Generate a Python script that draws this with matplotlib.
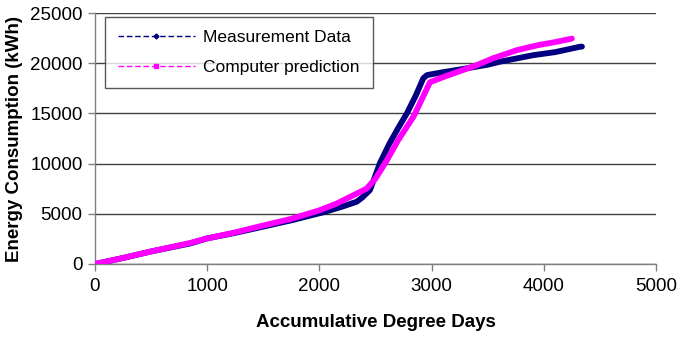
import matplotlib
matplotlib.use("Agg")
import matplotlib.pyplot as plt
from matplotlib.lines import Line2D

plt.rcParams['font.family'] = ['Liberation Sans', 'DejaVu Sans']

# Measurement data
meas_x = [0, 250, 500, 850, 1000, 1250, 1450, 1750, 2035, 2200, 2332, 2380, 2451,
          2540, 2620, 2700, 2780, 2860, 2926, 2960, 3100, 3313, 3500, 3610, 3906,
          4100, 4323, 4340]
meas_y = [0, 600, 1250, 2050, 2550, 3100, 3600, 4350, 5150, 5700, 6200, 6600, 7370,
          10060, 11900, 13500, 15010, 16800, 18500, 18820, 19100, 19490, 19850, 20150,
          20800, 21100, 21640, 21650]

# Computer prediction
pred_x = [0, 250, 500, 850, 1000, 1250, 1450, 1750, 2000, 2150, 2330, 2420, 2500,
          2600, 2700, 2840, 2930, 2985, 3100, 3250, 3400, 3550, 3760, 3950, 4100, 4250]
pred_y = [0, 600, 1250, 2100, 2550, 3150, 3700, 4500, 5350, 6000, 7000, 7500, 8500,
          10300, 12300, 14700, 16800, 18100, 18600, 19200, 19800, 20500, 21300, 21800,
          22100, 22450]

x_ticks = [0, 1000, 2000, 3000, 4000, 5000]
y_ticks = [0, 5000, 10000, 15000, 20000, 25000]

navy = '#000080'
pink = '#ff00ff'

fig = plt.figure(figsize=(6.84, 3.40), dpi=100)
ax = fig.add_axes([95/684, 1-264/340, (656-95)/684, (264-13)/340])

ax.plot(meas_x, meas_y, color=navy, lw=4.2, solid_capstyle='round', zorder=3)
ax.plot(pred_x, pred_y, color=pink, lw=4.2, solid_capstyle='round', zorder=4)

ax.set_xlim(0, 5000)
ax.set_ylim(0, 25000)
ax.set_xticks(x_ticks)
ax.set_yticks(y_ticks)
ax.tick_params(axis='both', direction='out', length=5, width=1, color='#808080',
               labelsize=13.5)
ax.tick_params(axis='x', pad=5)
ax.tick_params(axis='y', pad=4)
ax.yaxis.grid(True, color='#404040', lw=1)
ax.set_axisbelow(True)
for s in ['top', 'right']:
    ax.spines[s].set_visible(False)
for s in ['left', 'bottom']:
    ax.spines[s].set_color('#808080')
    ax.spines[s].set_linewidth(1)

ax.set_xlabel('Accumulative Degree Days', fontsize=13.5, fontweight='bold', labelpad=14)
ax.set_ylabel('Energy Consumption (kWh)', fontsize=13.5, fontweight='bold', labelpad=5)

handles = [
    Line2D([], [], color=navy, lw=1, ls=(0, (4, 2)), marker='D', markersize=2.5),
    Line2D([], [], color=pink, lw=1, ls=(0, (4, 2)), marker='s', markersize=3.5),
]
leg = ax.legend(handles, ['Measurement Data', 'Computer prediction'],
                loc='upper left', bbox_to_anchor=(0.018, 0.985), borderaxespad=0,
                fontsize=12.5, frameon=True, fancybox=False, handlelength=4.4,
                labelspacing=0.85, borderpad=0.75, handletextpad=0.5)
leg.get_frame().set_edgecolor('#303030')
leg.get_frame().set_linewidth(1)
leg.set_zorder(6)

fig.savefig('out.png', dpi=100)
